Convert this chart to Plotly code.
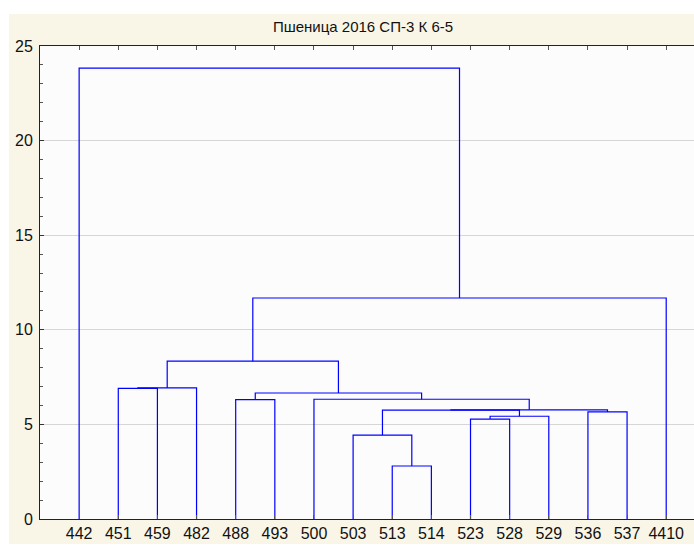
import plotly.graph_objects as go

# leaves, in the order they appear along the x axis
labels = ["442", "451", "459", "482", "488", "493", "500", "503",
          "513", "514", "523", "528", "529", "536", "537", "4410"]

# linkage: ids 0..15 are leaves, merge k creates cluster 16+k
merge_left = [8, 7, 10, 18, 13, 17, 21, 4, 6, 23, 1, 26, 27, 28, 0]
merge_right = [9, 16, 11, 12, 14, 19, 20, 5, 22, 24, 2, 3, 25, 15, 29]
merge_height = [2.80, 4.43, 5.28, 5.43, 5.66, 5.75, 5.77, 6.31, 6.33,
                6.66, 6.90, 6.93, 8.34, 11.68, 23.83]

n = len(labels)
pos = {i: i + 1 for i in range(n)}
hgt = {i: 0.0 for i in range(n)}
xs, ys = [], []
for k, (a, b, h) in enumerate(zip(merge_left, merge_right, merge_height)):
    xs += [pos[a], pos[a], pos[b], pos[b], None]
    ys += [hgt[a], h, h, hgt[b], None]
    pos[n + k] = (pos[a] + pos[b]) / 2
    hgt[n + k] = h

fig = go.Figure()
fig.add_trace(go.Scatter(
    x=xs, y=ys, mode="lines",
    line=dict(color="#0000FF", width=1.2),
    hoverinfo="skip", showlegend=False,
))

font = "Liberation Sans, Arial, sans-serif"
fig.update_layout(
    width=694, height=546,
    margin=dict(l=40, r=0, t=46, b=27),
    paper_bgcolor="#FAF6E7",
    plot_bgcolor="#FCFCFC",
    title=dict(text="Пшеница 2016 СП-3 К 6-5", font=dict(family=font, size=15, color="#111"),
               x=363 / 694, xanchor="center", xref="container",
               y=1 - 27 / 546, yanchor="middle", yref="container"),
    font=dict(family=font, size=16, color="#111"),
    xaxis=dict(
        range=[0, 16.71], tickmode="array",
        tickvals=list(range(1, n + 1)), ticktext=labels,
        showgrid=False, zeroline=False, automargin=False,
        showline=True, linecolor="#222", linewidth=1, mirror="ticks",
        ticks="inside", ticklen=4, tickcolor="#555",
    ),
    yaxis=dict(
        range=[0, 25], tickvals=[0, 5, 10, 15, 20, 25], automargin=False,
        showgrid=True, gridcolor="#D6D6D6", gridwidth=1, zeroline=False,
        showline=True, linecolor="#222", linewidth=1,
        ticks="inside", ticklen=4, tickcolor="#333", ticklabelstandoff=3,
        minor=dict(dtick=1, ticks="inside", ticklen=3, tickcolor="#555", showgrid=False),
    ),
    shapes=[
        dict(type="rect", xref="paper", yref="paper", layer="below",
             x0=-40 / 654, x1=1.1, y0=(519 - 14) / 473, y1=(519) / 473 + 0.2,
             fillcolor="white", line=dict(width=0)),
        dict(type="rect", xref="paper", yref="paper", layer="below",
             x0=-40 / 654, x1=-31 / 654, y0=-0.2, y1=1.2,
             fillcolor="white", line=dict(width=0)),
        dict(type="rect", xref="paper", yref="paper", layer="below",
             x0=-40 / 654, x1=1.1, y0=-0.2, y1=(519 - 544) / 473,
             fillcolor="white", line=dict(width=0)),
    ],
)

# the page body has an 8px default margin; drop it so the figure sits at (0, 0)
fig.write_html("out.html", config={"displayModeBar": False},
               post_script="document.body.style.margin='0';")
